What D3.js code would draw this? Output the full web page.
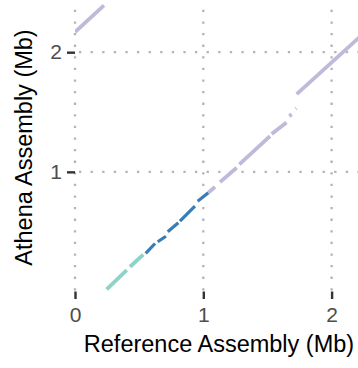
<!DOCTYPE html>
<html><head><meta charset="utf-8">
<script src="https://cdn.jsdelivr.net/npm/d3@7"></script>
<style>body{margin:0;background:#fff}svg{display:block}</style>
</head><body>
<svg id="c" width="358" height="368"></svg>
<script>
// Alignment segments (Mb): reference start/end, Athena start/end, contig
const refStart = [0.247, 0.429, 0.551, 0.645, 0.723, 0.818, 0.956, 1.039, 1.130, 1.281, 1.533, 1.670, 1.720, 1.728, 0.000];
const refEnd   = [0.403, 0.532, 0.624, 0.709, 0.805, 0.935, 1.039, 1.091, 1.260, 1.520, 1.648, 1.689, 1.725, 2.260, 0.226];
const athStart = [0.017, 0.207, 0.318, 0.416, 0.499, 0.588, 0.755, 0.825, 0.914, 1.062, 1.317, 1.466, 1.528, 1.650, 2.168];
const athEnd   = [0.178, 0.309, 0.401, 0.462, 0.574, 0.713, 0.825, 0.875, 1.034, 1.299, 1.413, 1.480, 1.532, 2.167, 2.391];
const contig   = ["c1","c1","c2","c2","c2","c2","c2","c3","c3","c3","c3","c3","c3","c3","c3"];
const contigs  = ["c1","c2","c3"];
const contigColors = ["#8dd3c7", "#377eb8", "#bebada"];
const xTicks = [0, 1, 2];
const yTicks = [1, 2];

(function(){
const svg = d3.select("#c");
const pLeft = 75, pRight = 358, pTop = 0, pBottom = 291.5;
const x = d3.scaleLinear().domain([0, 2]).range([pLeft, 331.6]);
const y = d3.scaleLinear().domain([0, 2]).range([pBottom, 52.2]);
const color = d3.scaleOrdinal().domain(contigs).range(contigColors);
const font = "'Liberation Sans', Arial, Helvetica, sans-serif";

svg.append("defs").append("clipPath").attr("id","clip")
  .append("rect").attr("x", pLeft).attr("y", pTop).attr("width", pRight - pLeft).attr("height", pBottom - pTop);

const grid = svg.append("g").attr("stroke", "#b4b4b4").attr("stroke-width", 2.3)
  .attr("stroke-dasharray", "2.3 9.3").attr("fill", "none");
xTicks.forEach(t => grid.append("line").attr("x1", x(t)).attr("x2", x(t)).attr("y1", pBottom - 1).attr("y2", pTop + 2));
yTicks.forEach(t => grid.append("line").attr("x1", pLeft + 4).attr("x2", pRight).attr("y1", y(t)).attr("y2", y(t)));

const data = refStart.map((d, i) => ({x0: d, x1: refEnd[i], y0: athStart[i], y1: athEnd[i], c: contig[i]}));
svg.append("g").attr("clip-path", "url(#clip)")
  .selectAll("line").data(data).join("line")
  .attr("x1", d => x(d.x0)).attr("x2", d => x(d.x1))
  .attr("y1", d => y(d.y0)).attr("y2", d => y(d.y1))
  .attr("stroke", d => color(d.c))
  .attr("stroke-width", d => d.c === "c2" ? 3.2 : 3.8)
  .attr("stroke-linecap", "butt");

const xAxis = svg.append("g").attr("transform", `translate(0,${pBottom})`)
  .call(d3.axisBottom(x).tickValues(xTicks).tickSize(7.5).tickPadding(8).tickFormat(d3.format("d")));
xAxis.select(".domain").remove();
xAxis.selectAll(".tick line").attr("stroke", "#333").attr("stroke-width", 2.4);
xAxis.selectAll(".tick text").attr("fill", "#4d4d4d").attr("font-size", 21).attr("font-family", font);

const yAxis = svg.append("g").attr("transform", `translate(${pLeft},0)`)
  .call(d3.axisLeft(y).tickValues(yTicks).tickSize(8).tickPadding(5).tickFormat(d3.format("d")));
yAxis.select(".domain").remove();
yAxis.selectAll(".tick line").attr("stroke", "#333").attr("stroke-width", 2.4);
yAxis.selectAll(".tick text").attr("fill", "#4d4d4d").attr("font-size", 21).attr("font-family", font);

svg.append("text").attr("x", 219).attr("y", 351.5).attr("text-anchor", "middle")
  .attr("font-size", 23.5).attr("fill", "#000").attr("font-family", font)
  .text("Reference Assembly (Mb)");
svg.append("text").attr("transform", "translate(31.5,147.5) rotate(-90)").attr("text-anchor", "middle")
  .attr("font-size", 23.5).attr("fill", "#000").attr("font-family", font)
  .text("Athena Assembly (Mb)");
})();
</script>
</body></html>
